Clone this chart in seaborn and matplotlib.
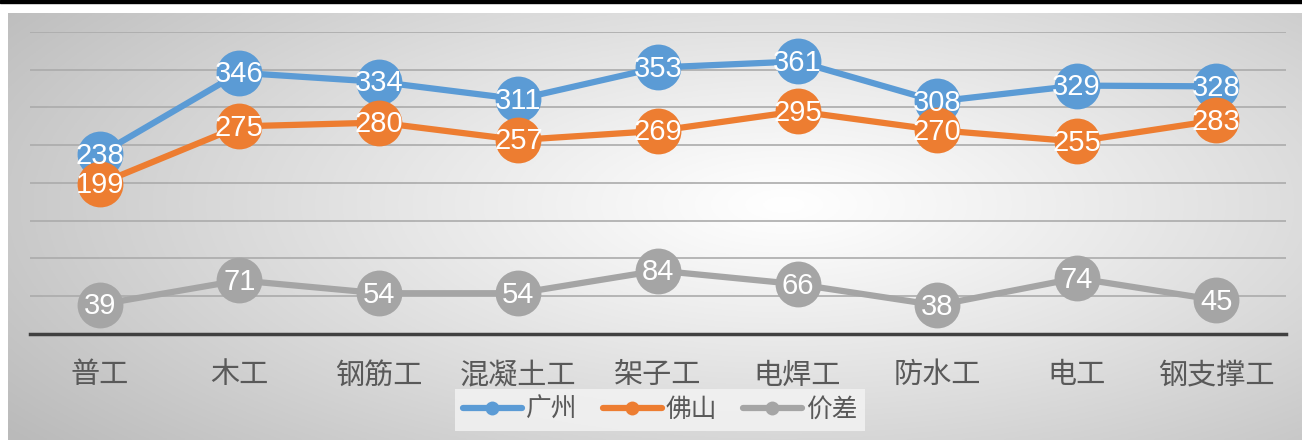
import numpy as np
import pandas as pd
import matplotlib.pyplot as plt
import seaborn as sns
from matplotlib.lines import Line2D
from matplotlib.patches import Rectangle


categories = ['普工', '木工', '钢筋工', '混凝土工', '架子工', '电焊工', '防水工', '电工', '钢支撑工']
guangzhou = [238, 346, 334, 311, 353, 361, 308, 329, 328]
foshan = [199, 275, 280, 257, 269, 295, 270, 255, 283]
price_gap = [39, 71, 54, 54, 84, 66, 38, 74, 45]
series_names = ['广州', '佛山', '价差']
colors = ['#5B9BD5', '#ED7D31', '#A5A5A5']
y_ticks = [50, 100, 150, 200, 250, 300, 350, 400]


def main():
    sns.set_theme(style='white')
    plt.rcParams['font.family'] = ['Noto Sans CJK SC', 'DejaVu Sans']

    rows = []
    for name, vals in zip(series_names, [guangzhou, foshan, price_gap]):
        for i, v in enumerate(vals):
            rows.append({'idx': i, 'cat': categories[i], 'value': v, 'series': name})
    df = pd.DataFrame(rows)

    W, H = 1302, 440
    fig = plt.figure(figsize=(W / 100, H / 100), dpi=100)
    fig.patch.set_facecolor('white')

    # radial gradient background
    bg = fig.add_axes([8 / W, 0, 1 - 8 / W, (H - 13) / H], zorder=-2)
    gx = np.linspace(0, 1, 600)
    gy = np.linspace(0, 1, 220)
    X, Y = np.meshgrid(gx, gy)
    r = np.sqrt(((X - 0.6) / 0.75) ** 2 + ((Y - 0.55) / 0.9) ** 2)
    r = np.clip(r, 0, 1)
    shade = 1.0 - 0.27 * r ** 1.1
    img = np.dstack([shade, shade, shade])
    bg.imshow(img, aspect='auto', extent=[0, 1, 0, 1], origin='lower')
    bg.set_axis_off()

    fig.patches.append(Rectangle((0, 1 - 3.5 / H), 1, 3.5 / H, transform=fig.transFigure,
                                 color='black', zorder=5))

    ax = fig.add_axes([30 / W, 1 - 334 / H, 1256 / W, 302 / H])
    ax.set_facecolor('none')
    for y in y_ticks:
        ax.axhline(y, color='#ABABAB', lw=1.2, zorder=0)

    sns.lineplot(data=df, x='idx', y='value', hue='series', hue_order=series_names,
                 palette=colors, marker='o', markersize=33, markeredgewidth=0,
                 linewidth=4.5, legend=False, ax=ax, zorder=3, clip_on=False)

    for _, row in df.iterrows():
        ax.text(row['idx'], row['value'] - 2, str(row['value']), ha='center', va='center',
                color='white', fontsize=21, family=['Liberation Sans', 'DejaVu Sans'],
                zorder=6)

    ax.set_xlim(-0.5, 8.5)
    ax.set_ylim(0, 400)
    ax.set_xticks(range(len(categories)))
    ax.set_xticklabels(categories, fontsize=21, color='#595959')
    ax.set_yticks([])
    ax.tick_params(axis='x', length=0, pad=19)
    ax.set_xlabel('')
    ax.set_ylabel('')
    for s in ['top', 'left', 'right']:
        ax.spines[s].set_visible(False)
    ax.spines['bottom'].set_color('#404040')
    ax.spines['bottom'].set_linewidth(2.5)
    ax.spines['bottom'].set_zorder(4)

    handles = [Line2D([0], [0], color=c, lw=4.5, marker='o', markersize=10,
                      markeredgewidth=0) for c in colors]
    leg = fig.legend(handles, series_names, loc='center', bbox_to_anchor=(660 / W, 1 - 410 / H),
                     ncol=3, fontsize=18.5, frameon=True, handlelength=2.3, handletextpad=0.15,
                     columnspacing=1.0, borderpad=0.3, fancybox=False)
    leg.get_frame().set_facecolor('#F4F4F4')
    leg.get_frame().set_edgecolor('none')
    for t in leg.get_texts():
        t.set_color('#595959')

    fig.savefig('out.png', dpi=100)


if __name__ == "__main__":
    main()
